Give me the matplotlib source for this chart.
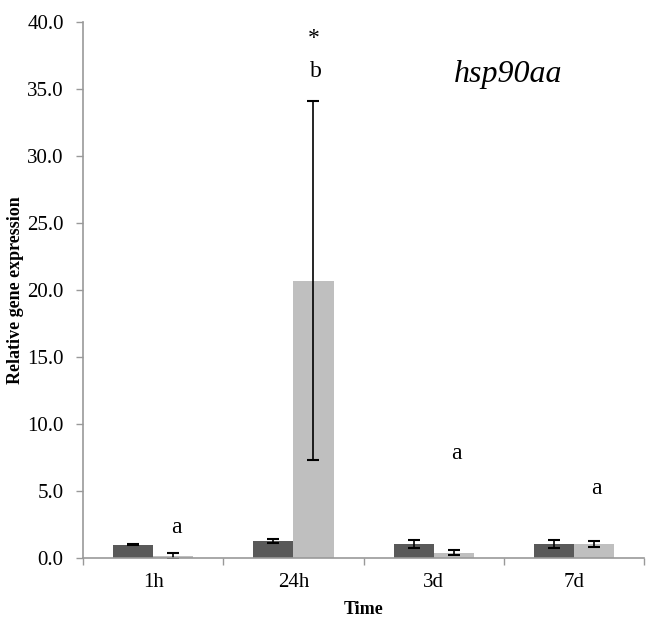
import matplotlib.pyplot as plt
import numpy as np

times = ["1h", "24h", "3d", "7d"]
dark_vals = [1.0, 1.25, 1.05, 1.05]
dark_err = [0.05, 0.15, 0.3, 0.3]
light_vals = [0.15, 20.7, 0.4, 1.05]
light_err = [0.2, 13.4, 0.2, 0.2]
letters = ["a", "b", "a", "a"]
letter_y = [2.3, 36.3, 7.8, 5.2]
star_y = 38.8

plt.rcParams["font.family"] = ["Liberation Serif", "DejaVu Serif"]

fig = plt.figure(figsize=(6.55, 6.35), dpi=100)
ax = fig.add_axes([0.127, 0.121, 0.856, 0.844])

x = np.arange(len(times))
w = 0.286
ekw = dict(ecolor="black", elinewidth=1.2, capsize=4, capthick=1.5)
ax.bar(x - w / 2, dark_vals, w, color="#595959", yerr=dark_err, error_kw=ekw, zorder=2)
ax.bar(x + w / 2, light_vals, w, color="#bfbfbf", yerr=light_err, error_kw=ekw, zorder=2)

for xi, t, ty in zip(x, letters, letter_y):
    ax.text(xi + w / 2 + 0.02, ty, t, ha="center", va="center", fontsize=17)
ax.text(x[1] + w / 2, star_y, "*", ha="center", va="center", fontsize=17)
ax.text(2.53, 36.1, "hsp90aa", ha="center", va="center", fontsize=23, style="italic")

ax.set_xlim(-0.5, 3.5)
ax.set_ylim(0, 40)
ax.set_yticks(np.arange(0, 41, 5))
ax.set_yticklabels([f"{v:.1f}" for v in np.arange(0, 41, 5)], fontsize=15)
ax.set_xticks(x)
ax.set_xticklabels(times, fontsize=15)
ax.set_xticks(np.arange(-0.5, 3.6, 1), minor=True)
ax.tick_params(axis="x", which="major", length=0, pad=11)
ax.tick_params(axis="x", which="minor", length=5, color="#999999", width=1)
ax.tick_params(axis="y", length=5, color="#999999", width=1, pad=9)

for s in ["top", "right"]:
    ax.spines[s].set_visible(False)
for s in ["left", "bottom"]:
    ax.spines[s].set_color("#999999")
    ax.spines[s].set_linewidth(1.2)

ax.set_xlabel("Time", fontsize=13, fontweight="bold", labelpad=6)
ax.set_ylabel("Relative gene expression", fontsize=13, fontweight="bold", labelpad=2)

fig.savefig("out.png", dpi=100)
